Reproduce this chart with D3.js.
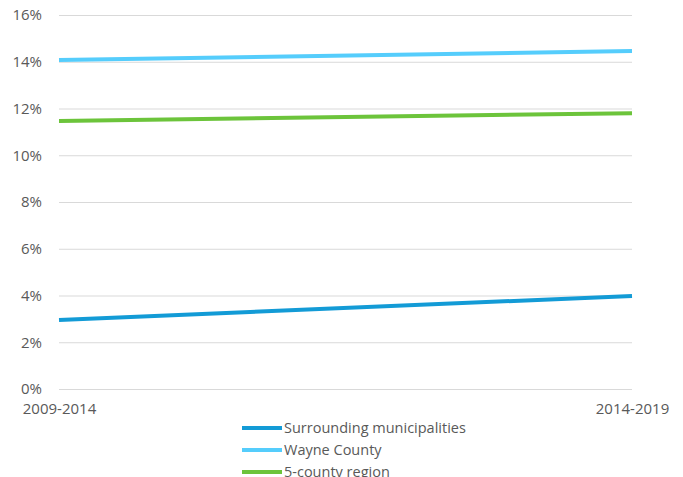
<!DOCTYPE html>
<html><head><meta charset="utf-8">
<script src="https://cdn.jsdelivr.net/npm/d3@7"></script>
<style>body{margin:0;background:#fff}svg{display:block}</style>
</head><body>
<script>
const categories = ["2009-2014", "2014-2019"];
const seriesNames = ["Surrounding municipalities", "Wayne County", "5-county region"];
const surrounding = [0.0295, 0.0398];
const wayne = [0.1407, 0.1446];
const region5 = [0.1147, 0.1180];
const yTicks = [0, 0.02, 0.04, 0.06, 0.08, 0.10, 0.12, 0.14, 0.16];
const colors = ["#139bd6", "#55cdfc", "#6cc43b"];

const series = [surrounding, wayne, region5];
const W = 683, H = 477;
const svg = d3.select("body").append("svg").attr("width", W).attr("height", H);
const font = "'Open Sans', sans-serif";
const x = d3.scalePoint().domain(categories).range([59, 632]);
const y = d3.scaleLinear().domain([0, 0.16]).range([389, 15]);

const yAxis = d3.axisLeft(y).tickValues(yTicks).tickFormat(d3.format(".0%")).tickSize(-(632 - 59)).tickPadding(17);
const gy = svg.append("g").attr("transform", "translate(59,0)").call(yAxis);
gy.select(".domain").remove();
gy.selectAll(".tick line").attr("stroke", "#d9d9d9").attr("stroke-width", 1);
gy.selectAll(".tick text").attr("fill", "#595959").style("font-family", font).style("font-size", "15px");

const xAxis = d3.axisBottom(x).tickSize(0).tickPadding(14);
const gx = svg.append("g").attr("transform", "translate(0,389)").call(xAxis);
gx.select(".domain").remove();
gx.selectAll(".tick text").attr("fill", "#595959").style("font-family", font).style("font-size", "15px");

const line = d3.line().x((d, i) => x(categories[i])).y(d => y(d));
series.forEach((s, k) => {
  svg.append("path").datum(s).attr("d", line).attr("fill", "none")
    .attr("stroke", colors[k]).attr("stroke-width", 4).attr("stroke-linecap", "butt");
});

const leg = svg.append("g");
seriesNames.forEach((n, k) => {
  const yy = 428 + k * 22;
  leg.append("line").attr("x1", 242).attr("x2", 282).attr("y1", yy).attr("y2", yy)
    .attr("stroke", colors[k]).attr("stroke-width", 4);
  leg.append("text").attr("x", 284).attr("y", yy).attr("dy", "0.35em")
    .attr("fill", "#595959").style("font-family", font).style("font-size", "14.5px").text(n);
});
</script>
</body></html>
